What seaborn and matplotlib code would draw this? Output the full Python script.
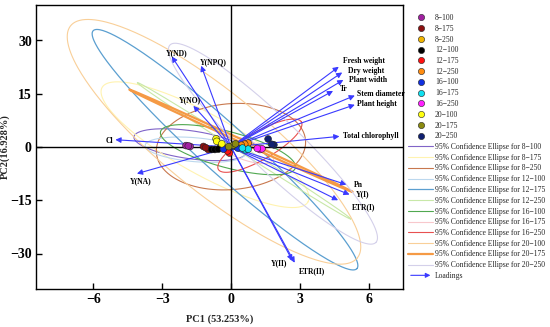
import numpy as np
import pandas as pd
import seaborn as sns
import matplotlib.pyplot as plt
from matplotlib.lines import Line2D
from matplotlib.patches import FancyArrowPatch
from matplotlib.legend_handler import HandlerBase

# groups (light period - intensity)
groups = ["8−100", "8−175", "8−250", "12−100", "12−175", "12−250",
          "16−100", "16−175", "16−250", "20−100", "20−175", "20−250"]
point_colors = ["#a020a0", "#8b1010", "#f0b400", "#000000", "#ff1010", "#ff8c10",
                "#1030e0", "#10e0f0", "#ff20ff", "#ffff10", "#8b8b10", "#102070"]
ellipse_colors = ["#8064c8", "#fff3b0", "#c8784e", "#bcd8ee", "#5b9fd0", "#c8e8a8",
                  "#50a850", "#f8c8cc", "#e85050", "#f9cf98", "#f59a45", "#d4d0ea"]
ellipse_widths = [0.8, 0.8, 0.8, 0.8, 0.9, 0.8, 0.8, 0.8, 0.8, 0.8, 1.6, 0.8]

# PCA scores
score_group = (["8−100"] * 3 + ["8−175"] * 3 + ["8−250"] * 2 + ["12−100"] * 3 +
               ["12−175"] * 3 + ["12−250"] * 3 + ["16−100"] * 3 + ["16−175"] * 3 +
               ["16−250"] * 3 + ["20−100"] * 3 + ["20−175"] * 3 + ["20−250"] * 3)
score_pc1 = [-1.96, -1.78, -1.86, -1.20, -0.99, -1.10, -0.30, -0.45,
             -0.84, -0.70, -0.55, -0.07, -0.26, -0.15, 0.75, 0.60, 0.45,
             -0.33, 0.10, 0.30, 0.61, 0.75, 0.50, 1.26, 1.35, 1.15,
             -0.65, -0.62, -0.40, 0.10, 0.20, -0.10, 1.62, 1.87, 1.78]
score_pc2 = [0.40, 0.15, 0.30, 0.15, -0.70, -0.20, -0.30, 0.10,
             -0.70, -0.70, -0.60, -1.70, -0.40, -1.10, 1.10, 0.80, 0.50,
             -0.60, 0.20, -0.30, -0.76, -0.60, -0.30, -0.70, -0.50, -0.40,
             2.30, 1.60, 0.90, 0.50, 0.90, 0.10, 2.25, 0.60, 0.75]

# 95% confidence ellipses: centre, major semi-axis vector, minor semi-axis vector
ell_cx = [-1.78, -1.13, 0.00, -1.57, -0.26, 0.57, -0.13, 0.61, 1.26, -0.74, 0.43, 1.83]
ell_cy = [0.65, 0.65, 0.10, -0.76, -0.76, -1.07, -0.76, -0.76, 0.37, 1.46, 1.77, 0.93]
ell_ux = [2.45, 4.49, 3.25, 2.17, 5.75, 4.65, 2.94, 1.23, 1.81, 6.25, 4.86, 4.49]
ell_uy = [-2.23, -16.1, 1.84, -1.22, -33.5, -19.2, -5.10, -2.89, 6.68, -32.7, -14.4, -27.8]
ell_vx = [0.085, 0.63, -0.16, 0.045, 0.70, 0.07, 0.20, 0.15, -0.30, 1.37, 0.03, 0.78]
ell_vy = [3.90, 7.38, 12.05, 3.36, 5.01, 0.71, 4.89, 2.64, 3.42, 10.9, 0.38, 5.29]

# loadings
load_names = ["Fresh weight", "Dry weight", "Plant width", "Tr", "Stem diameter",
              "Plant height", "Total chlorophyll", "Y(ND)", "Y(NPQ)", "Y(NO)", "Cl",
              "Y(NA)", "Pn", "Y(I)", "ETR(I)", "Y(II)", "ETR(II)"]
load_pc1 = [4.70, 4.85, 4.90, 4.45, 5.40, 5.40, 4.73, -2.58, -1.30, -1.64, -5.04,
            -4.10, 5.03, 5.17, 4.67, 2.68, 2.78]
load_pc2 = [22.6, 21.0, 18.9, 15.8, 14.5, 11.9, 3.0, 25.5, 22.9, 11.6, 2.05,
            -7.5, -10.6, -13.4, -15.0, -32.0, -32.6]
# label placement (offset in points, horizontal alignment)
label_style = [((2.7, 3.8), "left"), ((4.5, 1.2), "left"), ((4.3, 0), "left"),
               ((4.8, 1.2), "left"), ((1.6, 1.0), "left"), ((1.7, 0.5), "left"),
               ((2.9, 0), "left"), ((-4.3, 2.4), "left"), ((-0.7, 2.4), "left"),
               ((-10.3, 3.8), "left"), ((-1.2, -1.2), "right"), ((-4.8, -5.5), "left"),
               ((5.3, 0), "left"), ((4.8, 0), "left"), ((9.6, -4.8), "left"),
               ((-3.9, -1.7), "right"), ((3.1, -6.0), "left")]

sns.set_theme(style="ticks")
plt.rcParams["font.family"] = ["Liberation Serif", "DejaVu Serif"]
plt.rcParams["axes.unicode_minus"] = True

arrow_color = "#3a3aff"

fig = plt.figure(figsize=(5.5, 3.27), dpi=100)
ax = fig.add_axes([36 / 550, 38 / 327, 367 / 550, 284 / 327])

ax.axhline(0, color="black", lw=1.0, zorder=1.5)
ax.axvline(0, color="black", lw=1.0, zorder=1.5)

t = np.linspace(0, 2 * np.pi, 300)
for i in range(len(groups)):
    ex = ell_cx[i] + ell_ux[i] * np.cos(t) + ell_vx[i] * np.sin(t)
    ey = ell_cy[i] + ell_uy[i] * np.cos(t) + ell_vy[i] * np.sin(t)
    ax.plot(ex, ey, color=ellipse_colors[i], lw=ellipse_widths[i], zorder=1)

for i, name in enumerate(load_names):
    ax.annotate("", xy=(load_pc1[i], load_pc2[i]), xytext=(0, 0),
                arrowprops=dict(arrowstyle="-|>", color=arrow_color, lw=0.8,
                                mutation_scale=8, shrinkA=0, shrinkB=0), zorder=2)
    (dx, dy), ha = label_style[i]
    ax.annotate(name, xy=(load_pc1[i], load_pc2[i]), xytext=(dx, dy),
                textcoords="offset points", ha=ha, va="center",
                fontsize=5.5, fontweight="bold", color="black", zorder=4)

scores = pd.DataFrame({"group": score_group, "PC1": score_pc1, "PC2": score_pc2})
sns.scatterplot(data=scores, x="PC1", y="PC2", hue="group", hue_order=groups,
                palette=point_colors, s=24, edgecolor="#222222", linewidth=0.4,
                legend=False, ax=ax, zorder=3)

ax.set_xlim(-8.5, 7.5)
ax.set_ylim(-40, 40)
ax.set_xticks([-6, -3, 0, 3, 6])
ax.set_yticks([30, 15, 0, -15, -30])
ax.tick_params(direction="in", length=4, width=1, labelsize=10, pad=3,
               colors="black")
for lab in ax.get_xticklabels() + ax.get_yticklabels():
    lab.set_fontweight("bold")
for sp in ax.spines.values():
    sp.set_linewidth(1.0)
    sp.set_color("black")
ax.set_xlabel("PC1 (53.253%)", fontsize=7.5, fontweight="bold", labelpad=6)
ax.set_ylabel("PC2(16.928%)", fontsize=7.5, fontweight="bold")
ax.yaxis.set_label_coords(-26 / 367, 0.5)


class ArrowHandler(HandlerBase):
    def create_artists(self, legend, orig_handle, xdescent, ydescent, width,
                       height, fontsize, trans):
        y = height / 2 - ydescent
        arr = FancyArrowPatch((-xdescent, y), (width - xdescent, y),
                              arrowstyle="-|>", mutation_scale=7,
                              color=orig_handle.get_color(), lw=0.8,
                              transform=trans)
        return [arr]


handles, labels = [], []
for g, c in zip(groups, point_colors):
    handles.append(Line2D([], [], ls="none", marker="o", markersize=4.5,
                          markerfacecolor=c, markeredgecolor="#222222",
                          markeredgewidth=0.4))
    labels.append(g)
for g, c, w in zip(groups, ellipse_colors, ellipse_widths):
    handles.append(Line2D([], [], color=c, lw=w))
    labels.append(f"95% Confidence Ellipse for {g}")
loading_handle = Line2D([], [], color=arrow_color)
handles.append(loading_handle)
labels.append("Loadings")

fig.legend(handles, labels, loc="upper left", bbox_to_anchor=(408 / 550, 1 - 14 / 327),
           frameon=False, fontsize=5.5, handlelength=3.3, handletextpad=0.25,
           labelspacing=0.36, borderpad=0, borderaxespad=0,
           handler_map={loading_handle: ArrowHandler()})

fig.savefig("out.png", dpi=100)
